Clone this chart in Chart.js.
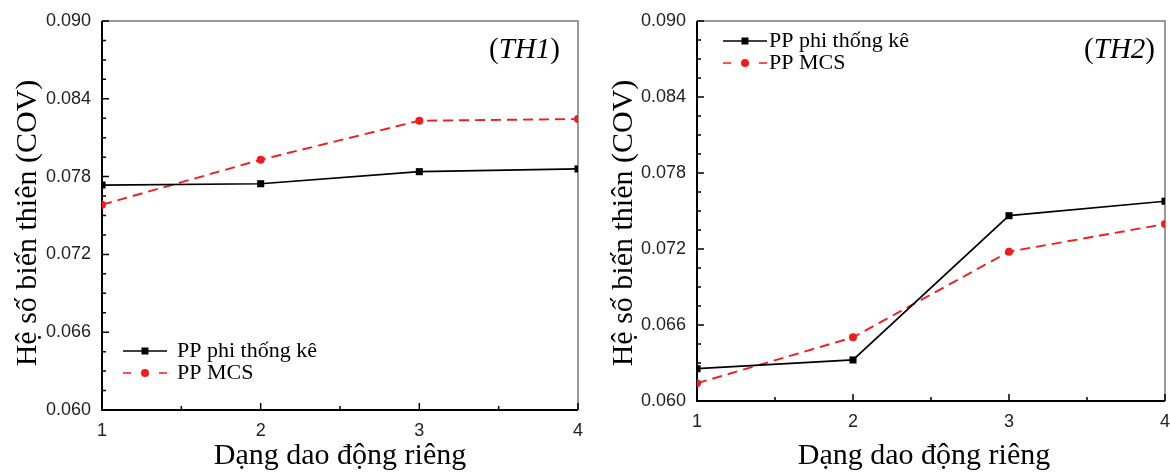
<!DOCTYPE html>
<html>
<head>
<meta charset="utf-8">
<script src="https://cdn.jsdelivr.net/npm/chart.js@4.4.0/dist/chart.umd.min.js"></script>
<style>
  body { margin: 0; background: #fff; width: 1170px; height: 476px; overflow: hidden; position: relative; }
  canvas { position: absolute; top: 0; }
</style>
</head>
<body>
<canvas id="th1" width="590" height="476" style="left:0"></canvas>
<canvas id="th2" width="580" height="476" style="left:590px"></canvas>
<script>
// Data
const modes = [1, 2, 3, 4];
const yTicks = [0.060, 0.066, 0.072, 0.078, 0.084, 0.090];
const seriesNames = ['PP phi thống kê', 'PP MCS'];
const th1Phi = [0.07735, 0.07745, 0.07838, 0.07859];
const th1Mcs = [0.07583, 0.07930, 0.08231, 0.08244];
const th2Phi = [0.06255, 0.06324, 0.07463, 0.07577];
const th2Mcs = [0.06140, 0.06503, 0.07179, 0.07397];

const RED = '#f21c1c';
const SERIF = '"Liberation Serif", "Times New Roman", serif';
const SANS = '"Liberation Sans", Arial, sans-serif';

// Frame, inward ticks, legend, case label and axis titles
function decor(opt) {
    return {
        id: 'decor',
        beforeDatasetsDraw(chart) {
            const { ctx, chartArea: a, scales: { x, y } } = chart;
            ctx.save();
            ctx.strokeStyle = '#7a7a7a';
            ctx.lineWidth = 1.5;
            ctx.beginPath();
            ctx.moveTo(a.left, a.top);
            ctx.lineTo(a.right, a.top);
            ctx.lineTo(a.right, a.bottom);
            ctx.stroke();

            ctx.strokeStyle = '#000';
            ctx.lineWidth = 1.5;
            ctx.beginPath();
            yTicks.forEach((v, i) => {
                const py = y.getPixelForValue(v);
                ctx.moveTo(a.left, py);
                ctx.lineTo(a.left + 7, py);
                if (i < yTicks.length - 1) {
                    for (let k = 1; k < 4; k++) {
                        const pm = y.getPixelForValue(v + (yTicks[i + 1] - v) * k / 4);
                        ctx.moveTo(a.left, pm);
                        ctx.lineTo(a.left + 4, pm);
                    }
                }
            });
            modes.forEach((m, i) => {
                const px = x.getPixelForValue(m);
                ctx.moveTo(px, a.bottom);
                ctx.lineTo(px, a.bottom - 7);
                if (i < modes.length - 1) {
                    const pm = x.getPixelForValue((m + modes[i + 1]) / 2);
                    ctx.moveTo(pm, a.bottom);
                    ctx.lineTo(pm, a.bottom - 4);
                }
            });
            ctx.stroke();

            ctx.lineWidth = 2;
            ctx.beginPath();
            ctx.moveTo(a.left, a.top);
            ctx.lineTo(a.left, a.bottom);
            ctx.lineTo(a.right, a.bottom);
            ctx.stroke();
            ctx.restore();
        },
        afterDraw(chart) {
            const ctx = chart.ctx;
            ctx.save();

            // legend
            const lg = opt.legend;
            const mid = (lg.x0 + lg.x1) / 2;
            ctx.lineWidth = 1.7;
            ctx.strokeStyle = '#000';
            ctx.beginPath();
            ctx.moveTo(lg.x0, lg.y0);
            ctx.lineTo(lg.x1, lg.y0);
            ctx.stroke();
            ctx.fillStyle = '#000';
            ctx.fillRect(mid - 3.5, lg.y0 - 3.5, 7, 7);

            const y1 = lg.y0 + 22;
            ctx.strokeStyle = RED;
            ctx.beginPath();
            ctx.moveTo(lg.x0, y1);
            ctx.lineTo(lg.x0 + 8, y1);
            ctx.moveTo(lg.x1 - 8, y1);
            ctx.lineTo(lg.x1, y1);
            ctx.stroke();
            ctx.fillStyle = RED;
            ctx.beginPath();
            ctx.arc(mid, y1, 4, 0, Math.PI * 2);
            ctx.fill();

            ctx.fillStyle = '#000';
            ctx.font = '22px ' + SERIF;
            ctx.textBaseline = 'middle';
            ctx.textAlign = 'left';
            ctx.fillText(seriesNames[0], lg.tx, lg.y0);
            ctx.fillText(seriesNames[1], lg.tx, y1);

            // case label, e.g. (TH1)
            ctx.textBaseline = 'alphabetic';
            const up = '29px ' + SERIF, it = 'italic 29px ' + SERIF;
            ctx.font = up;
            const wp = ctx.measureText(')').width;
            ctx.font = it;
            const wt = ctx.measureText(opt.note).width;
            ctx.font = up;
            const wo = ctx.measureText('(').width;
            let nx = opt.noteRight - wp - wt - wo;
            ctx.fillText('(', nx, opt.noteBase);
            nx += wo;
            ctx.font = it;
            ctx.fillText(opt.note, nx, opt.noteBase);
            nx += wt;
            ctx.font = up;
            ctx.fillText(')', nx, opt.noteBase);

            // axis titles
            ctx.font = '30px ' + SERIF;
            ctx.textAlign = 'center';
            ctx.fillText('Dạng dao động riêng', opt.xTitleX, 464);
            ctx.translate(opt.yTitleX, 223);
            ctx.rotate(-Math.PI / 2);
            ctx.fillText('Hệ số biến thiên (COV)', 0, 0);
            ctx.restore();
        }
    };
}

function makeChart(id, phi, mcs, opt) {
    return new Chart(document.getElementById(id), {
        type: 'line',
        data: {
            datasets: [
                {
                    label: seriesNames[0],
                    data: modes.map((m, i) => ({ x: m, y: phi[i] })),
                    borderColor: '#000',
                    borderWidth: 1.7,
                    pointStyle: 'rect',
                    pointRadius: 5,
                    pointBackgroundColor: '#000',
                    pointBorderColor: '#000',
                    pointBorderWidth: 0,
                    tension: 0
                },
                {
                    label: seriesNames[1],
                    data: modes.map((m, i) => ({ x: m, y: mcs[i] })),
                    borderColor: RED,
                    borderWidth: 1.9,
                    borderDash: [10, 6],
                    pointStyle: 'circle',
                    pointRadius: 4,
                    pointBackgroundColor: RED,
                    pointBorderColor: RED,
                    pointBorderWidth: 0,
                    tension: 0
                }
            ]
        },
        options: {
            responsive: false,
            animation: false,
            layout: { padding: { top: 21, right: opt.padRight, left: 0, bottom: 0 } },
            plugins: { legend: { display: false }, tooltip: { enabled: false } },
            scales: {
                x: {
                    type: 'linear',
                    min: 1,
                    max: 4,
                    grid: { display: false, drawTicks: false, tickLength: 0 },
                    border: { display: false },
                    afterBuildTicks: s => { s.ticks = modes.map(v => ({ value: v })); },
                    afterFit: s => {
                        s.height = opt.xHeight;
                        s.paddingLeft = 0;
                        s.paddingRight = 0;
                    },
                    ticks: {
                        font: { family: SANS, size: 18 },
                        color: '#222',
                        padding: opt.xPad,
                        maxRotation: 0,
                        autoSkip: false,
                        callback: v => String(v)
                    }
                },
                y: {
                    min: 0.06,
                    max: 0.09,
                    grid: { display: false, drawTicks: false, tickLength: 0 },
                    border: { display: false },
                    afterBuildTicks: s => { s.ticks = yTicks.map(v => ({ value: v })); },
                    afterFit: s => {
                        s.width = opt.yWidth;
                        s.paddingTop = 0;
                        s.paddingBottom = 0;
                    },
                    ticks: {
                        font: { family: SANS, size: 18 },
                        color: '#222',
                        padding: 11,
                        callback: v => v.toFixed(3)
                    }
                }
            }
        },
        plugins: [decor(opt)]
    });
}

makeChart('th1', th1Phi, th1Mcs, {
    padRight: 12, xHeight: 66, yWidth: 102, xPad: 10,
    legend: { x0: 123, x1: 167, y0: 351, tx: 177 },
    note: 'TH1', noteRight: 560, noteBase: 58,
    xTitleX: 340, yTitleX: 36
});

makeChart('th2', th2Phi, th2Mcs, {
    padRight: 4, xHeight: 75, yWidth: 107, xPad: 10,
    legend: { x0: 133, x1: 177, y0: 41, tx: 179 },
    note: 'TH2', noteRight: 565, noteBase: 58,
    xTitleX: 334, yTitleX: 42
});
</script>
</body>
</html>
